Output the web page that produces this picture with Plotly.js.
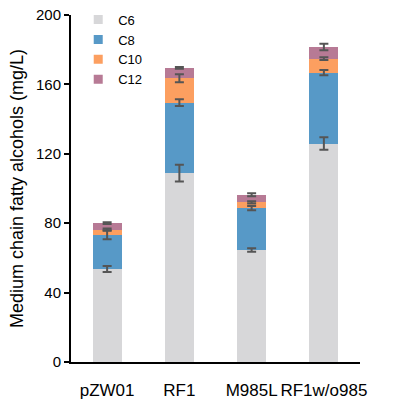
<!DOCTYPE html>
<html>
<head>
<meta charset="utf-8">
<script src="https://cdn.plot.ly/plotly-3.0.1.min.js"></script>
<style>html,body{margin:0;padding:0;background:#fff;}#chart{width:394px;height:405px;}</style>
</head>
<body>
<div id="chart"></div>
<script>
const categories = ["pZW01", "RF1", "M985L", "RF1w/o985"];
const seriesNames = ["C6", "C8", "C10", "C12"];
const c6 = [53.6, 108.9, 64.6, 125.9];
const c8 = [19.8, 40.6, 24.1, 40.9];
const c10 = [2.9, 14.1, 3.3, 8.0];
const c12 = [3.8, 5.9, 4.4, 6.8];
const c6Err = [1.7, 4.8, 1.0, 3.6];
const c8Err = [2.6, 1.9, 1.2, 1.5];
const c10Err = [0.6, 2.3, 0.6, 0.8];
const c12Err = [0.5, 0.5, 0.8, 1.9];
const colors = ["#D7D7D9", "#5799C7", "#FC9F60", "#B77A95"];

const vals = [c6, c8, c10, c12];
const errs = [c6Err, c8Err, c10Err, c12Err];

const traces = [];
vals.forEach((v, i) => {
  traces.push({
    type: "bar",
    x: categories,
    y: v,
    name: seriesNames[i],
    marker: {color: colors[i], line: {width: 0}},
    width: 0.4,
    showlegend: false
  });
});
// error bars drawn on top of all stacked segments, at the cumulative segment tops
const cum = categories.map(() => 0);
vals.forEach((v, i) => {
  const tops = v.map((val, j) => (cum[j] += val));
  traces.push({
    type: "scatter", mode: "markers", x: categories, y: tops.slice(),
    marker: {size: 1, opacity: 0},
    showlegend: false, hoverinfo: "skip",
    error_y: {type: "data", array: errs[i], visible: true, color: "#555555", thickness: 2, width: 4.5}
  });
});
// legend entries
seriesNames.forEach((n, i) => {
  traces.push({
    type: "scatter", mode: "markers", x: [null], y: [null], name: n,
    marker: {symbol: "square", size: 9, color: colors[i]},
    showlegend: true, hoverinfo: "skip"
  });
});

const layout = {
  width: 394, height: 405,
  margin: {l: 71, r: 34, t: 15, b: 43, autoexpand: false},
  barmode: "stack",
  paper_bgcolor: "#ffffff", plot_bgcolor: "#ffffff",
  font: {family: "Liberation Sans, Arial, sans-serif", color: "#000"},
  showlegend: true,
  legend: {x: 0.025, y: 1.03, xanchor: "left", yanchor: "top", traceorder: "normal", font: {size: 13}, bgcolor: "rgba(0,0,0,0)", itemwidth: 30, tracegroupgap: 0},
  xaxis: {
    type: "category", range: [-0.5, 3.5],
    showline: true, linecolor: "#000", linewidth: 2,
    ticks: "", showgrid: false, zeroline: false,
    tickfont: {size: 17}, ticklabelstandoff: 12
  },
  yaxis: {
    range: [0, 200], tickvals: [0, 40, 80, 120, 160, 200],
    showline: true, linecolor: "#000", linewidth: 2,
    ticks: "outside", ticklen: 5, tickwidth: 2, tickcolor: "#000",
    showgrid: false, zeroline: false,
    tickfont: {size: 15},
    title: {text: "Medium chain fatty alcohols (mg/L)", font: {size: 18}, standoff: 8}
  }
};
Plotly.newPlot("chart", traces, layout, {displayModeBar: false, staticPlot: true});
</script>
</body>
</html>
